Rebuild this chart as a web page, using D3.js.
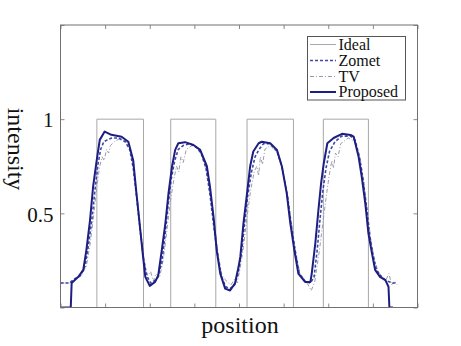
<!DOCTYPE html>
<html><head><meta charset="utf-8">
<script src="https://cdn.jsdelivr.net/npm/d3@7"></script>
<style>body{margin:0;background:#fff}svg{display:block}text{font-family:"Liberation Serif","Times New Roman",serif}</style>
</head><body><svg id="c" width="461" height="346"></svg>
<script>
// ---- data ----
const seriesNames = ["Ideal", "Zomet", "TV", "Proposed"];
const xTicks = [0,1,2,3,4,5,6,7,8];
const yTicks = [0,0.5,1,1.5];
const yTickLabels = ["", "0.5", "1", ""];

const idealPos = [0,0.815,0.815,1.86,1.86,2.47,2.47,3.48,3.48,4.18,4.18,5.22,5.22,5.89,5.89,6.90,6.90,8];
const idealVal = [0,0,1,1,0,0,1,1,0,0,1,1,0,0,1,1,0,0];

const proposedPos = [0,0.23,0.25,0.40,0.51,0.58,0.66,0.73,0.81,0.88,0.99,1.14,1.37,1.52,1.63,1.70,1.78,1.85,1.90,2.00,2.12,2.19,2.27,2.35,2.42,2.50,2.57,2.64,2.79,2.98,3.13,3.28,3.35,3.43,3.50,3.58,3.69,3.80,3.91,3.99,4.03,4.10,4.18,4.25,4.32,4.44,4.51,4.70,4.85,4.96,5.07,5.15,5.24,5.33,5.48,5.60,5.63,5.71,5.78,5.84,5.90,5.98,6.12,6.31,6.50,6.57,6.68,6.75,6.83,6.90,6.98,7.05,7.16,7.28,7.35,7.37,7.45];
const proposedVal = [0,0,0.13,0.163,0.20,0.305,0.46,0.64,0.78,0.89,0.934,0.917,0.907,0.88,0.78,0.61,0.43,0.27,0.163,0.115,0.136,0.17,0.305,0.447,0.606,0.75,0.837,0.872,0.878,0.863,0.837,0.75,0.64,0.48,0.305,0.18,0.10,0.09,0.128,0.216,0.27,0.447,0.606,0.75,0.828,0.872,0.88,0.872,0.837,0.75,0.606,0.447,0.305,0.18,0.136,0.136,0.18,0.34,0.518,0.66,0.766,0.872,0.90,0.922,0.916,0.907,0.80,0.695,0.553,0.394,0.287,0.20,0.163,0.145,0.11,0,0];

const zometPos = [0,0.2,0.3,0.45,0.55,0.62,0.70,0.77,0.84,0.90,0.97,1.05,1.15,1.30,1.45,1.55,1.63,1.71,1.79,1.86,1.93,2.02,2.10,2.18,2.27,2.34,2.41,2.48,2.56,2.64,2.75,2.90,3.05,3.15,3.26,3.35,3.43,3.52,3.60,3.70,3.80,3.90,3.98,4.06,4.13,4.20,4.28,4.36,4.45,4.55,4.70,4.85,4.96,5.08,5.17,5.26,5.35,5.48,5.60,5.68,5.75,5.82,5.88,5.95,6.03,6.15,6.30,6.50,6.60,6.70,6.78,6.86,6.93,7.01,7.08,7.20,7.32,7.45,7.55];
const zometVal = [0.13,0.13,0.15,0.17,0.22,0.32,0.46,0.62,0.76,0.84,0.88,0.89,0.90,0.90,0.88,0.84,0.74,0.58,0.40,0.26,0.17,0.13,0.14,0.16,0.24,0.38,0.54,0.68,0.78,0.84,0.86,0.87,0.85,0.82,0.74,0.60,0.44,0.28,0.17,0.11,0.10,0.12,0.18,0.30,0.46,0.60,0.72,0.80,0.84,0.87,0.87,0.83,0.75,0.60,0.44,0.30,0.18,0.14,0.13,0.16,0.30,0.48,0.62,0.74,0.83,0.88,0.91,0.91,0.89,0.80,0.68,0.53,0.38,0.27,0.20,0.16,0.14,0.13,0.13];

const tvPos = [0,0.2,0.32,0.47,0.58,0.66,0.74,0.81,0.87,0.93,0.98,1.03,1.08,1.12,1.20,1.35,1.48,1.57,1.65,1.73,1.81,1.88,1.95,2.02,2.08,2.14,2.22,2.30,2.38,2.46,2.54,2.60,2.65,2.70,2.75,2.82,2.95,3.08,3.18,3.28,3.37,3.46,3.54,3.62,3.72,3.82,3.90,3.96,4.02,4.10,4.18,4.26,4.34,4.40,4.44,4.48,4.53,4.58,4.70,4.86,4.98,5.10,5.19,5.28,5.37,5.46,5.55,5.62,5.70,5.80,5.88,5.95,6.02,6.08,6.12,6.16,6.22,6.28,6.45,6.60,6.72,6.80,6.88,6.96,7.04,7.12,7.22,7.30,7.36,7.42,7.48,7.55];
const tvVal = [0.13,0.13,0.15,0.17,0.22,0.33,0.48,0.63,0.74,0.80,0.78,0.84,0.82,0.86,0.88,0.90,0.88,0.84,0.72,0.56,0.38,0.24,0.17,0.19,0.14,0.18,0.16,0.25,0.40,0.56,0.68,0.75,0.72,0.80,0.77,0.84,0.86,0.85,0.80,0.72,0.58,0.42,0.27,0.17,0.14,0.12,0.15,0.13,0.20,0.32,0.48,0.62,0.72,0.75,0.70,0.80,0.76,0.84,0.86,0.82,0.73,0.58,0.42,0.28,0.18,0.15,0.12,0.09,0.14,0.30,0.45,0.58,0.70,0.78,0.74,0.82,0.80,0.87,0.90,0.88,0.78,0.66,0.50,0.35,0.25,0.19,0.16,0.15,0.18,0.12,0.14,0.12];

// ---- chart ----
const svg = d3.select("#c");
const L = 60.5, R = 417.5, T = 25, B = 307.5;
const x = d3.scaleLinear().domain([0,8]).range([L,R]);
const y = d3.scaleLinear().domain([0,1.5]).range([B,T]);

svg.append("rect").attr("x",L).attr("y",T).attr("width",R-L).attr("height",B-T)
  .attr("fill","#fff");

svg.append("clipPath").attr("id","pc").append("rect")
  .attr("x",L).attr("y",T-2).attr("width",R-L).attr("height",B-T+2);

const zip = (a,b)=>a.map((v,i)=>[v,b[i]]);
const line = d3.line().x(d=>x(d[0])).y(d=>y(d[1]));
const g = svg.append("g").attr("clip-path","url(#pc)");

const styles = {
  Ideal:{stroke:"#a8a8a8",w:1,dash:null},
  Zomet:{stroke:"#3c47a8",w:1.6,dash:"3,2"},
  TV:{stroke:"#9a9aae",w:1,dash:"4,2,1,2"},
  Proposed:{stroke:"#1e1e80",w:2,dash:null}
};
const data = {
  Ideal: zip(idealPos,idealVal),
  TV: zip(tvPos,tvVal),
  Zomet: zip(zometPos,zometVal),
  Proposed: zip(proposedPos,proposedVal)
};
["Ideal","TV","Zomet","Proposed"].forEach(k=>{
  g.append("path").attr("d",line(data[k])).attr("fill","none")
   .attr("stroke",styles[k].stroke).attr("stroke-width",styles[k].w)
   .attr("stroke-dasharray",styles[k].dash).attr("stroke-linejoin","round");
});

// axes (inward ticks, no x labels)
const tc = "#8a8a8a";
svg.append("g").attr("transform",`translate(0,${B})`)
  .call(d3.axisBottom(x).tickValues(xTicks).tickSize(-4).tickFormat(""))
  .call(s=>{s.select(".domain").remove();s.selectAll("line").attr("stroke",tc);});
svg.append("g").attr("transform",`translate(0,${T})`)
  .call(d3.axisTop(x).tickValues(xTicks).tickSize(-4).tickFormat(""))
  .call(s=>{s.select(".domain").remove();s.selectAll("line").attr("stroke",tc);});
svg.append("g").attr("transform",`translate(${L},0)`)
  .call(d3.axisLeft(y).tickValues(yTicks).tickSize(-4).tickFormat(""))
  .call(s=>{s.select(".domain").remove();s.selectAll("line").attr("stroke",tc);});
svg.append("g").attr("transform",`translate(${R},0)`)
  .call(d3.axisRight(y).tickValues(yTicks).tickSize(-4).tickFormat(""))
  .call(s=>{s.select(".domain").remove();s.selectAll("line").attr("stroke",tc);});

svg.append("rect").attr("x",L).attr("y",T).attr("width",R-L).attr("height",B-T)
  .attr("fill","none").attr("stroke","#707070").attr("stroke-width",1);

// y tick labels
yTicks.forEach((t,i)=>{
  if(!yTickLabels[i]) return;
  svg.append("text").attr("x",53.5).attr("y",y(t)+8.3).attr("text-anchor","end")
    .attr("font-size",21).attr("fill","#111").text(yTickLabels[i]);
});

// axis titles
svg.append("text").attr("x",240).attr("y",333).attr("text-anchor","middle")
  .attr("font-size",24).attr("fill","#111").text("position");
svg.append("text").attr("transform","translate(8,149) rotate(90)").attr("text-anchor","middle")
  .attr("font-size",24).attr("fill","#111").text("intensity");

// legend
const lg = svg.append("g");
lg.append("rect").attr("x",307.5).attr("y",36.5).attr("width",98).attr("height",63.5)
  .attr("fill","#fff").attr("stroke","#555").attr("stroke-width",1);
const legBase = [49.5,65.5,81.5,97];
seriesNames.forEach((n,i)=>{
  const yy = legBase[i]-5;
  lg.append("line").attr("x1",310).attr("x2",336).attr("y1",yy).attr("y2",yy)
    .attr("stroke",styles[n].stroke).attr("stroke-width",styles[n].w)
    .attr("stroke-dasharray",styles[n].dash);
  lg.append("text").attr("x",338.5).attr("y",legBase[i]).attr("font-size",16)
    .attr("fill","#111").text(n);
});
</script></body></html>
